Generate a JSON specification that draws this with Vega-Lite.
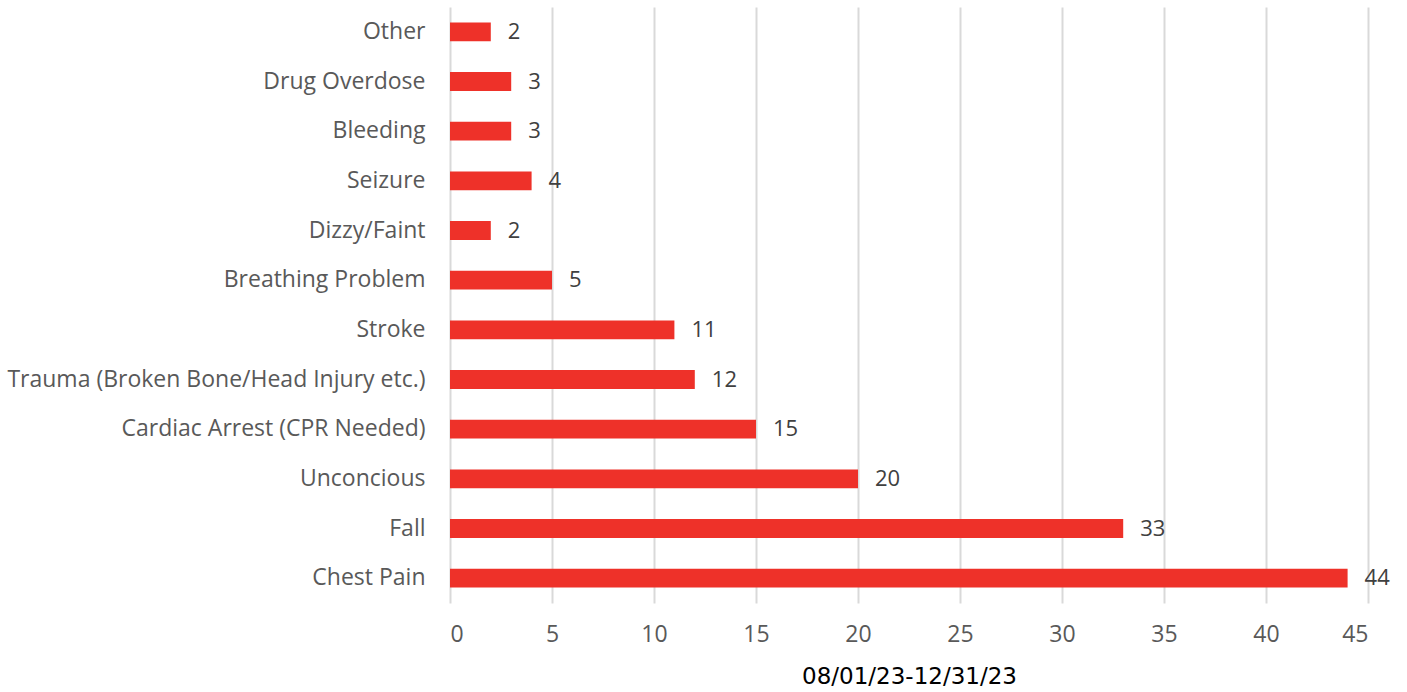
{
  "$schema": "https://vega.github.io/schema/vega-lite/v6.json",
  "autosize": {"type": "none"},
  "width": 918,
  "height": 596,
  "padding": {"left": 450, "top": 7, "right": 39, "bottom": 89},
  "background": "white",
  "config": {"view": {"stroke": null}, "font": "Open Sans"},
  "data": {
    "values": [
      {"category": "Other", "count": 2},
      {"category": "Drug Overdose", "count": 3},
      {"category": "Bleeding", "count": 3},
      {"category": "Seizure", "count": 4},
      {"category": "Dizzy/Faint", "count": 2},
      {"category": "Breathing Problem", "count": 5},
      {"category": "Stroke", "count": 11},
      {"category": "Trauma (Broken Bone/Head Injury etc.)", "count": 12},
      {"category": "Cardiac Arrest (CPR Needed)", "count": 15},
      {"category": "Unconcious", "count": 20},
      {"category": "Fall", "count": 33},
      {"category": "Chest Pain", "count": 44}
    ]
  },
  "encoding": {
    "y": {
      "field": "category",
      "type": "nominal",
      "sort": null,
      "scale": {"paddingInner": 0.62, "paddingOuter": 0.31},
      "axis": {
        "title": null,
        "domain": false,
        "ticks": false,
        "labelFontSize": 23,
        "labelColor": "#595959",
        "labelPadding": 25,
        "labelLimit": 500
      }
    },
    "x": {
      "field": "count",
      "type": "quantitative",
      "scale": {"domain": [0, 45], "nice": false},
      "axis": {
        "values": [0, 5, 10, 15, 20, 25, 30, 35, 40, 45],
        "domain": false,
        "ticks": false,
        "grid": true,
        "gridColor": "#d9d9d9",
        "gridWidth": 2,
        "labelFontSize": 23,
        "labelColor": "#595959",
        "labelPadding": 20,
        "title": "08/01/23-12/31/23",
        "titleFont": "DejaVu Sans",
        "titleFontSize": 23,
        "titleFontWeight": "normal",
        "titleColor": "#000000",
        "titlePadding": 19
      }
    }
  },
  "layer": [
    {"mark": {"type": "bar", "color": "#EE3129"}},
    {
      "mark": {"type": "text", "align": "left", "baseline": "middle", "dx": 17, "fontSize": 22, "color": "#404040"},
      "encoding": {"text": {"field": "count", "type": "quantitative"}}
    }
  ]
}
